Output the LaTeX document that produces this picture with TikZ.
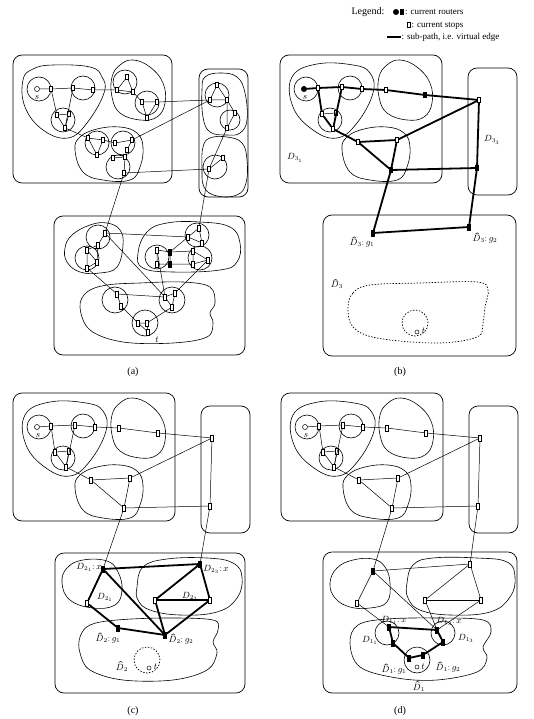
\documentclass[tikz,border=0pt]{standalone}
\usepackage{fontspec}
\setmainfont{Liberation Serif}
\newcommand\hD{\leavevmode\rlap{\kern2.6pt\raisebox{7.3pt}{\rotatebox{35}{\rule{2.3pt}{0.45pt}}\kern-0.35pt\raisebox{1.3pt}{\rotatebox{-35}{\rule{2.3pt}{0.45pt}}}}}$D$}
\newcommand\TopPart[3]{%
 \draw[frm] (280,55) rectangle (442,183);
 \draw[frm] (468,68) rectangle (517,195);
 \draw[blob] plot[smooth cycle, tension=0.7] coordinates {(292,77) (317,64) (353,65) (370,73) (373,93) (357,123) (337,138) (313,130) (293,107)};
 \draw[blob] plot[smooth cycle, tension=0.7] coordinates {(379,77) (387,65) (400,60) (417,67) (430,83) (432,103) (424,117) (407,120) (387,113) (379,97)};
 \draw[blob] plot[smooth cycle, tension=0.7] coordinates {(342,150) (347,137) (364,129) (387,127) (404,133) (410,147) (407,167) (397,180) (370,180) (350,172)};
 \draw[blob] (306,89) circle[radius=12pt] (350,88) circle[radius=12pt] (330,120) circle[radius=12pt];
 \node[#2] (s) at (304,89) {};
 \node[lab] (sl) at (305,98) {$s$};
 \node[stop] (n1) at (318,88) {};
 \node[stop] (n2) at (342,87) {};
 \node[stop] (n3) at (362,89) {};
 \node[stop] (n4) at (386,90) {};
 \node[#3] (n5) at (425,95) {};
 \node[stop] (n6) at (479,100) {};
 \node[stop] (n7) at (322,114) {};
 \node[stop] (n7b) at (336,113) {};
 \node[stop] (n8) at (333,129) {};
 \node[stop] (m1) at (358,142) {};
 \node[stop] (m2) at (397,140) {};
 \node[#3] (m3) at (391,170) {};
 \node[#3] (r2) at (477,168) {};
 \draw[#1] (s) -- (n1) -- (n2) -- (n3) -- (n4) -- (n5) -- (n6);
 \draw[#1] (n1) -- (n7) -- (n8) -- (m1) -- (m3) -- (r2) -- (n6) -- (m2) -- (m1);
 \draw[#1] (n2) -- (n8);
 \draw[#1] (m2) -- (m3);
 \draw[tedge] (n7) -- (n7b) -- (n8);
}
\begin{document}
\begin{tikzpicture}[x=1pt,y=-1pt,
 stop/.style={draw, rectangle, minimum width=3.2pt, minimum height=5.5pt, inner sep=0pt, fill=white, line width=0.5pt},
 router/.style={stop, fill=black},
 srouter/.style={circle, draw, fill=black, minimum size=5.5pt, inner sep=0pt},
 snode/.style={circle, draw, fill=white, minimum size=5pt, inner sep=0pt, line width=0.5pt},
 tedge/.style={line width=0.5pt},
 medge/.style={line width=1pt},
 kedge/.style={line width=1.8pt},
 frm/.style={line width=0.7pt, rounded corners=9pt},
 blob/.style={line width=0.6pt},
 dblob/.style={line width=0.7pt, dash pattern=on 1.4pt off 1.6pt},
 lab/.style={font=\small, inner sep=0.5pt},
 captxt/.style={font=\normalsize, inner sep=0pt}
]
\useasboundingbox (0,0) rectangle (533,719);

% ---------------- Legend ----------------
\node[font=\normalsize, inner sep=0pt] (legt) at (368,12) {Legend:};
\node[srouter] (legr1) at (396,12) {};
\node[router] (legr2) at (402,12) {};
\node[font=\small, anchor=west, inner sep=0pt] (legrt) at (405,12.5) {: current routers};
\node[stop] (legs) at (409,25) {};
\node[font=\small, anchor=west, inner sep=0pt] (legst) at (411.5,25.5) {: current stops};
\coordinate (lega) at (387,37);
\coordinate (legb) at (401,37);
\draw[kedge] (lega) -- (legb);
\node[font=\small, anchor=west, inner sep=0pt] (legvt) at (401.5,37.5) {: sub-path, i.e. virtual edge};

% ---------------- Panel (a) ----------------
\draw[frm] (13,55) rectangle (172,183);
\draw[frm] (199,69) rectangle (248,197);
\draw[frm] (54,216) rectangle (245,355);
\draw[blob] plot[smooth cycle, tension=0.7] coordinates {(23,80) (33,69) (53,65) (90,67) (102,77) (104,93) (87,123) (68,138) (43,130) (25,107)};
\draw[blob] plot[smooth cycle, tension=0.7] coordinates {(112,77) (120,65) (133,60) (150,67) (163,83) (165,103) (157,117) (140,120) (120,113) (112,97)};
\draw[blob] plot[smooth cycle, tension=0.7] coordinates {(75,150) (80,137) (97,129) (120,127) (137,133) (143,147) (140,167) (130,180) (103,180) (83,172)};
\draw[blob] plot[smooth cycle, tension=0.7] coordinates {(202,90) (205,77) (220,73) (237,77) (245,93) (247,120) (240,133) (227,135) (210,132) (203,117)};
\draw[blob] plot[smooth cycle, tension=0.7] coordinates {(203,147) (210,138) (227,137) (242,143) (247,160) (246,183) (237,195) (217,196) (204,187) (202,167)};
\draw[blob] plot[smooth cycle, tension=0.7] coordinates {(65,248) (72,235) (90,225) (107,223) (120,230) (123,245) (117,267) (100,273) (80,272) (67,262)};
\draw[blob] plot[smooth cycle, tension=0.7] coordinates {(138,253) (147,232) (167,223) (200,222) (230,227) (240,243) (237,262) (220,270) (173,272) (143,268)};
\draw[blob] plot[smooth cycle, tension=0.6] coordinates {(80,307) (87,292) (107,285) (140,283) (183,282) (210,287) (215,303) (210,313) (213,323) (207,337) (173,343) (123,342) (90,330)};
\draw[blob] (39,89) circle[radius=12pt] (83,88) circle[radius=12pt] (63,120) circle[radius=12pt];
\draw[blob] (125,82) circle[radius=12pt] (147,103) circle[radius=12pt];
\draw[blob] (97,143) circle[radius=12pt] (123,143) circle[radius=12pt] (118,167) circle[radius=12pt];
\draw[blob] (217,95) circle[radius=12pt] (230,120) circle[radius=10pt] (215,167) circle[radius=12pt];
\draw[blob] (98,237) circle[radius=12pt] (87,258) circle[radius=12pt];
\draw[blob] (197,235) circle[radius=12pt] (157,257) circle[radius=12pt] (200,258) circle[radius=12pt];
\draw[blob] (115,300) circle[radius=13pt] (172,300) circle[radius=13pt] (145,323) circle[radius=13pt];

\node[snode] (as) at (37,89) {};
\node[lab] (asl) at (37,98) {$s$};
\node[stop] (a1) at (51,89) {};
\node[stop] (a2) at (73,88) {};
\node[stop] (a3) at (93,90) {};
\node[stop] (a7) at (57,115) {};
\node[stop] (a7b) at (69,114) {};
\node[stop] (a8) at (65,128) {};
\node[stop] (b1) at (127,77) {};
\node[stop] (b2) at (117,90) {};
\node[stop] (b3) at (133,92) {};
\node[stop] (b4) at (142,102) {};
\node[stop] (b5) at (157,102) {};
\node[stop] (b6) at (147,118) {};
\node[stop] (c1) at (88,138) {};
\node[stop] (c2) at (103,140) {};
\node[stop] (c3) at (97,155) {};
\node[stop] (c4) at (115,143) {};
\node[stop] (c5) at (132,140) {};
\node[stop] (c6) at (127,150) {};
\node[stop] (c7) at (113,158) {};
\node[stop] (c8) at (125,157) {};
\node[stop] (c9) at (124,173) {};
\node[stop] (d1) at (217,85) {};
\node[stop] (d2) at (210,100) {};
\node[stop] (d3) at (227,100) {};
\node[stop] (d4) at (235,113) {};
\node[stop] (d5) at (227,128) {};
\node[stop] (d6) at (223,158) {};
\node[stop] (d7) at (209,169) {};
\node[stop] (e1) at (105,233) {};
\node[stop] (e2) at (98,245) {};
\node[stop] (e3) at (87,250) {};
\node[stop] (e4) at (97,262) {};
\node[stop] (e5) at (87,268) {};
\node[stop] (f1) at (199,228) {};
\node[stop] (f2) at (188,237) {};
\node[stop] (f3) at (202,243) {};
\node[stop] (f4) at (157,250) {};
\node[router] (f5) at (170,252) {};
\node[stop] (f6) at (157,264) {};
\node[router] (f7) at (170,264) {};
\node[stop] (f8) at (193,251) {};
\node[stop] (f9) at (208,260) {};
\node[stop] (f10) at (193,264) {};
\node[stop] (g1) at (117,294) {};
\node[stop] (g2) at (121,306) {};
\node[stop] (h1) at (165,297) {};
\node[stop] (h2) at (175,293) {};
\node[stop] (h3) at (172,307) {};
\node[stop] (k1) at (138,323) {};
\node[stop] (k2) at (147,323) {};
\node[stop] (k3) at (148,332) {};
\node[lab] (atl) at (157,340) {$t$};

\draw[tedge] (as) -- (a1) -- (a2) -- (a3) -- (b2);
\draw[tedge] (a1) -- (a7) -- (a7b) -- (a8) -- (a7);
\draw[tedge] (a2) -- (a8) -- (c1);
\draw[tedge] (b1) -- (b2) -- (b3) -- (b1);
\draw[tedge] (b3) -- (b4) -- (b5) -- (b6) -- (b4);
\draw[tedge] (b5) -- (d2);
\draw[tedge] (c1) -- (c2) -- (c3) -- (c1);
\draw[tedge] (c2) -- (c4) -- (c5) -- (c6) -- (c8) -- (c7);
\draw[tedge] (c8) -- (c9);
\draw[tedge] (c5) -- (d2);
\draw[tedge] (c9) -- (d7);
\draw[tedge] (c9) -- (e1);
\draw[tedge] (d1) -- (d2) -- (d3) -- (d1);
\draw[tedge] (d3) -- (d4) -- (d5) -- (d3);
\draw[tedge] (d5) -- (d7) -- (d6);
\draw[tedge] (d7) -- (f1);
\draw[tedge] (e1) -- (e2) -- (e3) -- (e5) -- (e4) -- (e2);
\draw[tedge] (e3) -- (e4);
\draw[tedge] (e1) -- (f2);
\draw[tedge] (e1) -- (h1);
\draw[tedge] (e5) -- (g1);
\draw[tedge] (f1) -- (f2) -- (f3) -- (f1);
\draw[tedge] (f2) -- (f5) -- (f4) -- (f6) -- (f7) -- (f5) -- (f8);
\draw[tedge] (f7) -- (f10) -- (f8) -- (f9) -- (f10);
\draw[tedge] (f4) -- (h1);
\draw[tedge] (f9) -- (h2);
\draw[tedge] (g1) -- (g2) -- (k1) -- (k2) -- (k3) -- (k1);
\draw[tedge] (g1) -- (h1) -- (h2) -- (h3) -- (h1);
\draw[tedge] (h3) -- (k2);
\node[captxt] (capa) at (133,372) {(a)};

% ---------------- Panel (b) ----------------
\begin{scope}[name prefix=b-]
\TopPart{kedge}{srouter}{router}
\end{scope}
\node[lab] (bd31) at (295,158) {$D_{3_1}$};
\node[lab] (bd33) at (492,140) {$D_{3_3}$};
\draw[frm] (323,215) rectangle (516,356);
\node[router] (bg1) at (373,233) {};
\node[router] (bg2) at (469,227) {};
\draw[kedge] (b-m3) -- (bg1) -- (bg2) -- (b-r2);
\node[lab] (bg1l) at (362,242) {\hD$_3{:}\,g_1$};
\node[lab] (bg2l) at (485,238) {\hD$_3{:}\,g_2$};
\node[lab] (bdh) at (337,284) {\hD$_3$};
\draw[dblob] plot[smooth cycle, tension=0.6] coordinates {(348,308) (353,293) (370,285) (420,283) (477,282) (488,290) (485,307) (483,323) (477,337) (437,343) (377,338) (353,327)};
\draw[dblob] (415,323) circle[radius=13pt];
\node[snode, minimum size=4pt] (bt) at (417,332) {};
\node[lab] (btl) at (423.5,331) {$t$};
\node[captxt] (capb) at (400,372) {(b)};

% ---------------- Panel (c) ----------------
\begin{scope}[shift={(-267,338)}, name prefix=c-]
\TopPart{tedge}{snode}{stop}
\end{scope}
\draw[frm] (55,553) rectangle (245,693);
\draw[blob] plot[smooth cycle, tension=0.7] coordinates {(62,583) (67,568) (83,560) (107,561) (118,572) (122,590) (115,605) (93,608) (70,600)};
\draw[blob] plot[smooth cycle, tension=0.7] coordinates {(137,587) (143,567) (167,559) (207,558) (233,563) (242,577) (237,598) (217,612) (180,615) (150,610) (138,600)};
\draw[blob] plot[smooth cycle, tension=0.6] coordinates {(80,637) (90,625) (117,620) (167,618) (213,620) (218,630) (213,642) (217,653) (207,670) (173,680) (123,680) (90,670) (80,653)};
\draw[dblob] (147,660) circle[radius=13pt];
\node[router] (cx1) at (103,569) {};
\node[stop] (cy1) at (87,603) {};
\node[router] (cx3) at (200,564) {};
\node[stop] (cy3) at (155,600) {};
\node[stop] (cy4) at (210,600) {};
\node[router] (cg1) at (118,628) {};
\node[router] (cg2) at (165,635) {};
\draw[tedge] (c-m3) -- (cx1);
\draw[tedge] (c-r2) -- (cx3);
\draw[kedge] (cx1) -- (cx3) -- (cy3) -- (cy4) -- (cx3);
\draw[kedge] (cx1) -- (cy1) -- (cg1) -- (cg2) -- (cx1);
\draw[kedge] (cy3) -- (cg2) -- (cy4);
\node[lab] (cx1l) at (89,567) {$D_{2_1}{:}\,x$};
\node[lab] (cx3l) at (216,569) {$D_{2_3}{:}\,x$};
\node[lab] (cd21) at (105,597) {$D_{2_1}$};
\node[lab] (cd23) at (190,596) {$D_{2_3}$};
\node[lab] (cg1l) at (108,638) {\hD$_2{:}\,g_1$};
\node[lab] (cg2l) at (181,639) {\hD$_2{:}\,g_2$};
\node[lab] (cdh) at (122,666) {\hD$_2$};
\node[snode, minimum size=4pt] (ct) at (149,668) {};
\node[lab] (ctl) at (155.5,667) {$t$};
\node[captxt] (capc) at (133,711) {(c)};

% ---------------- Panel (d) ----------------
\begin{scope}[shift={(1,338)}, name prefix=d-]
\TopPart{tedge}{snode}{stop}
\end{scope}
\draw[frm] (323,552) rectangle (517,693);
\draw[blob] plot[smooth cycle, tension=0.7] coordinates {(330,583) (337,568) (353,560) (373,559) (385,567) (390,583) (387,602) (370,608) (350,607) (335,598)};
\draw[blob] plot[smooth cycle, tension=0.7] coordinates {(407,583) (413,565) (433,558) (477,558) (507,562) (515,577) (510,597) (490,612) (450,615) (420,610) (408,598)};
\draw[blob] plot[smooth cycle, tension=0.6] coordinates {(350,643) (358,625) (387,619) (437,618) (483,620) (491,632) (483,647) (487,658) (477,672) (437,680) (397,678) (360,667)};
\draw[blob] (387,633) circle[radius=12pt] (443,633) circle[radius=12pt] (417,660) circle[radius=13pt];
\node[router] (dp1) at (373,571) {};
\node[stop] (dp2) at (357,603) {};
\node[stop] (dp3) at (470,564) {};
\node[stop] (dp4) at (425,600) {};
\node[stop] (dp5) at (481,600) {};
\node[router] (dx1) at (389,627) {};
\node[router] (dy1) at (393,643) {};
\node[router] (dx3) at (437,630) {};
\node[router] (dy3) at (443,642) {};
\node[router] (dg1) at (409,658) {};
\node[router] (dg2) at (423,655) {};
\draw[tedge] (d-m3) -- (dp1);
\draw[tedge] (d-r2) -- (dp3);
\draw[tedge] (dp1) -- (dp3) -- (dp5) -- (dx3) -- (dp4) -- (dp3);
\draw[medge] (dp4) -- (dp5);
\draw[tedge] (dp1) -- (dx3);
\draw[tedge] (dp1) -- (dp2) -- (dx1);
\draw[kedge] (dx1) -- (dx3) -- (dy3) -- (dg2) -- (dg1) -- (dy1) -- (dx1);
\node[lab] (dx1l) at (394,620) {$D_{1_1}{:}\,x$};
\node[lab] (dx3l) at (449,621) {$D_{1_3}{:}\,x$};
\node[lab] (dd11) at (370,640) {$D_{1_1}$};
\node[lab] (dd13) at (466,638) {$D_{1_3}$};
\node[lab] (dg1l) at (394,669) {\hD$_1{:}\,g_1$};
\node[lab] (dg2l) at (448,667) {\hD$_1{:}\,g_2$};
\node[lab] (ddh) at (419,686) {\hD$_1$};
\node[snode, minimum size=4pt] (dt) at (417,667) {};
\node[lab] (dtl) at (423,666.5) {$t$};
\node[captxt] (capd) at (400,711) {(d)};
\end{tikzpicture}
\end{document}
